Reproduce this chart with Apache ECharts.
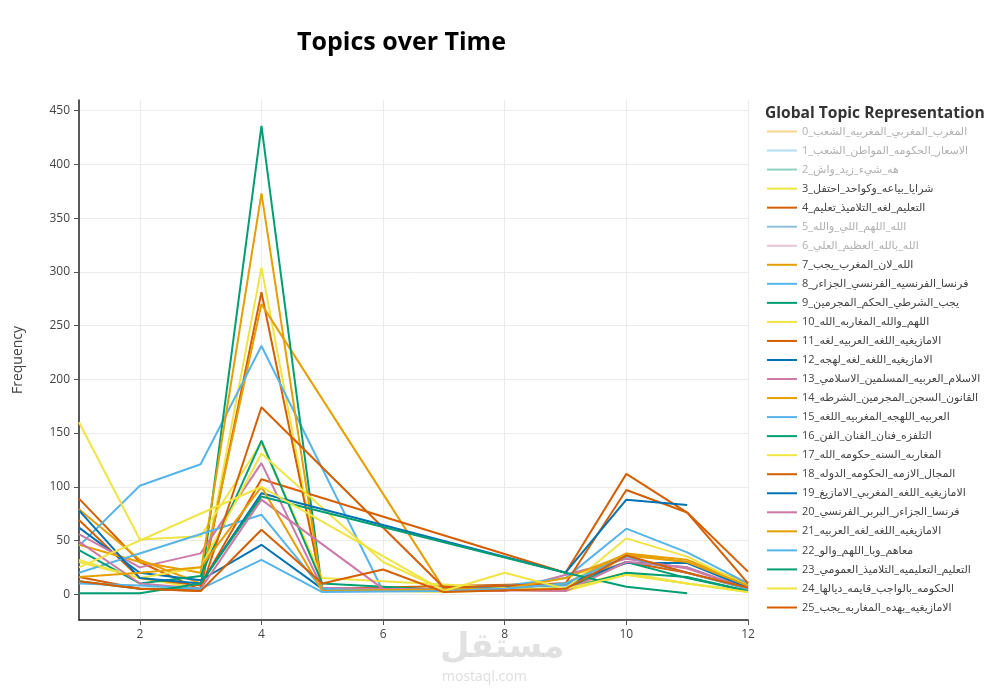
<!DOCTYPE html>
<html><head><meta charset="utf-8">
<script src="https://cdn.jsdelivr.net/npm/echarts@6/dist/echarts.min.js"></script>
<style>html,body{margin:0;padding:0;background:#fff}#c{width:1000px;height:700px}</style>
</head><body><div id="c"></div>
<script>
// x = month index, y = topic frequency
const months = [1, 2, 3, 4, 5, 6, 7, 8, 9, 10, 11, 12];
const xTicks = [2, 4, 6, 8, 10, 12];
const yTicks = [0, 50, 100, 150, 200, 250, 300, 350, 400, 450];

const topicLabels = [
  '0_المغرب_المغربي_المغربيه_الشعب',
  '1_الاسعار_الحكومه_المواطن_الشعب',
  '2_هه_شيء_زيد_واش',
  '3_شرايا_بياعه_وكواحد_احتفل',
  '4_التعليم_لغه_التلاميذ_تعليم',
  '5_الله_اللهم_اللي_والله',
  '6_الله_بالله_العظيم_العلي',
  '7_الله_لان_المغرب_يجب',
  '8_فرنسا_الفرنسيه_الفرنسي_الجزاءر',
  '9_يجب_الشرطي_الحكم_المجرمين',
  '10_اللهم_والله_المغاربه_الله',
  '11_الامازيغيه_اللغه_العربيه_لغه',
  '12_الامازيغيه_اللغه_لغه_لهجه',
  '13_الاسلام_العربيه_المسلمين_الاسلامي',
  '14_القانون_السجن_المجرمين_الشرطه',
  '15_العربيه_اللهجه_المغربيه_اللغه',
  '16_التلفزه_فنان_الفنان_الفن',
  '17_المغاربه_السنه_حكومه_الله',
  '18_المجال_الازمه_الحكومه_الدوله',
  '19_الامازيغيه_اللغه_المغربي_الامازيغ',
  '20_فرنسا_الجزاءر_البربر_الفرنسي',
  '21_الامازيغيه_اللغه_لغه_العربيه',
  '22_معاهم_وبا_اللهم_والو',
  '23_التعليم_التعليميه_التلاميذ_العمومي',
  '24_الحكومه_بالواجب_قايمه_ديالها',
  '25_الامازيغيه_بهده_المغاربه_يجب'
];

// topics switched off in the legend (no line drawn)
const hiddenTopics = [0, 1, 2, 5, 6];

// frequencies per month (null = topic absent that month)
const t0 = [];
const t1 = [];
const t2 = [];
const t3  = [30, 15, 5, 304, 4, null, 2, null, 6, 20, 10, 3];
const t4  = [89, 30, 4, 281, 5, null, null, null, 10, 30, 20, 5];
const t5 = [];
const t6 = [];
const t7  = [79, 32, 10, 270, null, null, 5, null, 3, 36, 30, 8];
const t8  = [45, 101, 121, 231, null, 3, null, null, 8, 30, 25, 5];
const t9  = [12, 5, 5, 436, 3, null, null, null, 5, 30, 15, 3];
const t10 = [160, 51, 54, 141, 15, null, null, null, 3, 18, 10, 2];
const t11 = [69, 15, 8, 107, null, null, null, null, 20, 112, 76, 21];
const t12 = [62, 20, 13, 46, 5, 3, null, null, 10, 29, 29, 6];
const t13 = [56, 25, 38, 122, 6, null, null, 3, null, 33, 24, 5];
const t14 = [46, 30, 20, 373, 3, null, null, 5, 10, 38, 32, 10];
const t15 = [20, null, null, 74, 5, 3, null, 8, 15, 61, 39, 10];
const t16 = [41, 10, 17, 143, 10, null, 4, null, 5, 20, 16, 3];
const t17 = [32, 15, 25, 131, null, 30, 4, null, 5, 52, 35, 8];
const t18 = [16, 5, 3, 174, null, null, 6, null, 10, 97, 76, 10];
const t19 = [78, 15, 10, 94, null, null, null, null, 20, 88, 83, null];
const t20 = [49, 10, 5, 88, null, 5, null, null, 3, 30, 25, 5];
const t21 = [16, 20, 25, 100, 3, null, null, 5, 15, 37, 30, 8];
const t22 = [10, 8, 5, 32, 2, null, 3, 5, 10, 35, 20, 5];
const t23 = [1, 1, 10, 91, null, null, null, null, 20, 7, 1, null];
const t24 = [25, null, null, 100, null, null, 3, 20, 5, 18, 10, 2];
const t25 = [12, 5, 3, 60, 10, 23, 2, null, 5, 36, 20, 6];

const topicValues = [t0,t1,t2,t3,t4,t5,t6,t7,t8,t9,t10,t11,t12,t13,t14,t15,t16,t17,t18,t19,t20,t21,t22,t23,t24,t25];

const palette = ['#E69F00', '#56B4E9', '#009E73', '#F0E442', '#D55E00', '#0072B2', '#CC79A7'];
const paletteFaded = ['rgba(230,159,0,0.45)', 'rgba(86,180,233,0.45)', 'rgba(0,158,115,0.45)',
  'rgba(240,228,66,0.45)', 'rgba(213,94,0,0.45)', 'rgba(0,114,178,0.45)', 'rgba(204,121,167,0.45)'];

const FONT = "'Open Sans', 'DejaVu Sans', sans-serif";

const series = topicLabels.map((label, i) => {
  const hidden = hiddenTopics.includes(i);
  const vals = topicValues[i];
  const data = [];
  months.forEach((m, k) => { if (vals[k] !== null && vals[k] !== undefined) data.push([m, vals[k]]); });
  return {
    name: label,
    type: 'line',
    symbol: 'none',
    data: hidden ? [] : data,
    color: hidden ? paletteFaded[i % 7] : palette[i % 7],
    lineStyle: { width: 2 },
    emphasis: { disabled: true },
    animation: false,
    z: 2
  };
});

const legendData = topicLabels.map((label, i) => hiddenTopics.includes(i)
  ? { name: label, textStyle: { color: '#b0b0b0' } }
  : { name: label });

const chart = echarts.init(document.getElementById('c'), null, { renderer: 'canvas' });
chart.setOption({
  backgroundColor: '#fff',
  animation: false,
  title: [
    { text: 'Topics over Time', left: 297, top: 30, padding: 0,
      textStyle: { fontFamily: FONT, fontWeight: 'bold', fontSize: 25, color: '#000' } },
    { text: 'Global Topic Representation', left: 765, top: 106, padding: 0,
      textStyle: { fontFamily: FONT, fontWeight: 'bold', fontSize: 15.6, color: '#333' } }
  ],
  legend: {
    orient: 'vertical', left: 767, top: 126, padding: 0,
    icon: 'rect', itemWidth: 30, itemHeight: 2, itemGap: 8.04,
    data: legendData,
    selectedMode: false,
    textStyle: { fontFamily: FONT, fontSize: 11, color: '#444' }
  },
  grid: { left: 79, right: 252, top: 100, bottom: 80, containLabel: false },
  xAxis: {
    type: 'value', min: 1, max: 12,
    axisLine: { show: true, onZero: false, lineStyle: { color: '#222', width: 1.5 } },
    axisTick: { show: true, customValues: xTicks, length: 5, lineStyle: { color: '#555' } },
    axisLabel: { customValues: xTicks, color: '#444', fontSize: 12, fontFamily: FONT, margin: 9 },
    splitLine: { show: true, lineStyle: { color: '#ebebeb', width: 1 } }
  },
  yAxis: {
    type: 'value', min: -24, max: 460,
    name: 'Frequency', nameLocation: 'middle', nameGap: 54,
    nameTextStyle: { color: '#444', fontSize: 14, fontFamily: FONT },
    axisLine: { show: true, onZero: false, lineStyle: { color: '#222', width: 1.5 } },
    axisTick: { show: true, customValues: yTicks, length: 5, lineStyle: { color: '#555' } },
    axisLabel: { customValues: yTicks, color: '#444', fontSize: 12, fontFamily: FONT, margin: 9 },
    splitLine: { show: true, lineStyle: { color: '#ebebeb', width: 1 } }
  },
  graphic: [
    { type: 'text', left: 440, top: 630, z: 100,
      style: { text: 'مستقل', fontSize: 34, fontWeight: 'bold', fill: 'rgba(200,200,200,0.55)', fontFamily: FONT } },
    { type: 'text', left: 442, top: 670, z: 100,
      style: { text: 'mostaql.com', fontSize: 14, fill: 'rgba(200,200,200,0.6)', fontFamily: FONT } }
  ],
  series: series
});
</script>
</body></html>
